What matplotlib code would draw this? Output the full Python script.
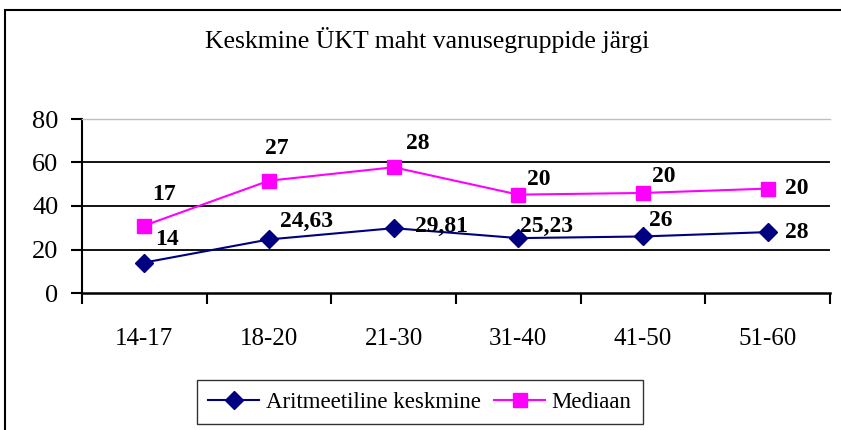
import matplotlib
matplotlib.use("Agg")
import matplotlib.pyplot as plt
from matplotlib.patches import Rectangle
import numpy as np

# data
age_groups = ["14-17", "18-20", "21-30", "31-40", "41-50", "51-60"]
mean_values = [14, 24.63, 29.81, 25.23, 26, 28]
median_values = [17, 27, 28, 20, 20, 20]
mean_labels = ["14", "24,63", "29,81", "25,23", "26", "28"]
median_labels = ["17", "27", "28", "20", "20", "20"]

plt.rcParams["font.family"] = ["Liberation Serif", "DejaVu Serif"]

NAVY = "#000080"
MAGENTA = "#FF00FF"

fig = plt.figure(figsize=(8.41, 4.30), dpi=100)
ax = fig.add_axes([82 / 841, 137 / 430, 748 / 841, 174 / 430])

x = np.arange(len(age_groups))
# Excel stacked line chart: median drawn on top of the mean
stacked = np.add(mean_values, median_values)

ax.plot(x, mean_values, color=NAVY, lw=1.5, marker="D", ms=9.5,
        mfc=NAVY, mec=NAVY, label="Aritmeetiline keskmine", zorder=4)
ax.plot(x, stacked, color=MAGENTA, lw=1.5, marker="s", ms=10.5,
        mfc=MAGENTA, mec=MAGENTA, label="Mediaan", zorder=4)

# label offsets in pixels (left edge, vertical centre)
mean_off = [(11, 23), (11, 18), (21, 2), (2, 12), (6, 16), (17, 0)]
median_off = [(8, 31), (-4, 32), (12, 24), (9, 15), (9, 16), (17, 0)]
for i in range(len(x)):
    ax.annotate(mean_labels[i], (x[i], mean_values[i]), xytext=mean_off[i],
                textcoords="offset pixels", ha="left", va="center",
                fontsize=17, fontweight="bold", zorder=5)
    ax.annotate(median_labels[i], (x[i], stacked[i]), xytext=median_off[i],
                textcoords="offset pixels", ha="left", va="center",
                fontsize=17, fontweight="bold", zorder=5)

ax.set_xlim(-0.5, len(x) - 0.5)
ax.set_ylim(0, 80)
ax.set_yticks([0, 20, 40, 60, 80])
ax.set_xticks(x)
ax.set_xticklabels(age_groups)
ax.set_xticks(np.arange(-0.5, len(x)), minor=True)
ax.tick_params(axis="x", which="major", length=0, pad=25, labelsize=18)
ax.tick_params(axis="x", which="minor", length=8, width=1.5, direction="out")
ax.tick_params(axis="y", length=8, width=1.5, direction="out", pad=9, labelsize=19)

for v in [20, 40, 60]:
    ax.axhline(v, color="black", lw=1.3, zorder=1)

ax.spines["right"].set_visible(False)
ax.spines["top"].set_color("#c0c0c0")
ax.spines["top"].set_linewidth(1)
ax.spines["left"].set_linewidth(1.5)
ax.spines["bottom"].set_linewidth(1.8)

fig.text(427 / 841, 1 - 40 / 430, "Keskmine ÜKT maht vanusegruppide järgi",
         ha="center", va="center", fontsize=18.5)

leg = fig.legend(loc="center", bbox_to_anchor=(420 / 841, 1 - 402 / 430),
                 ncol=2, fontsize=16.5, frameon=True, fancybox=False,
                 handlelength=2.2, columnspacing=0.6, handletextpad=0.3,
                 borderpad=0.5)
leg.get_frame().set_edgecolor("black")
leg.get_frame().set_linewidth(1)

fig.patches.append(Rectangle((5 / 841, -0.05), 1.0, 1 - 10 / 430 + 0.05,
                             transform=fig.transFigure, fill=False,
                             edgecolor="black", lw=1.5, clip_on=False))

fig.savefig("out.png", dpi=100)
